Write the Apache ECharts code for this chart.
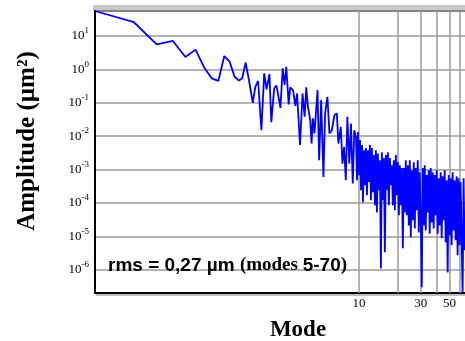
<!DOCTYPE html>
<html>
<head>
<meta charset="utf-8">
<script src="https://cdn.jsdelivr.net/npm/echarts@6/dist/echarts.min.js"></script>
<style>
  html, body { margin: 0; padding: 0; background: #fff; }
  #chart { width: 465px; height: 341px; }
</style>
</head>
<body>
<div id="chart"></div>
<script>
// mode numbers (x) and amplitude in µm² (y)
var modes = [
  0.091, 0.182, 0.273, 0.364, 0.455, 0.545, 0.636, 0.727, 0.818, 0.909, 1.0, 1.09,
  1.18, 1.25, 1.33, 1.41, 1.51, 1.58, 1.66, 1.76, 1.85, 1.93, 2.03, 2.10, 2.21, 2.30,
  2.47, 2.57, 2.66, 2.74, 2.86, 2.94, 3.09, 3.22,
  3.32, 3.50, 3.66, 3.80, 3.91, 4.03, 4.20, 4.30, 4.40, 4.53, 4.78, 4.92, 5.10, 5.31,
  5.47, 5.70, 5.91, 6.17, 6.46, 6.74, 6.93, 7.23, 7.45, 7.67, 7.91, 8.13, 8.42, 8.67,
  8.95, 9.20,
  9.48, 9.65, 9.82, 10.0, 10.18, 10.36, 10.55, 10.73, 10.93, 11.12,
  11.32, 11.52, 11.73, 11.94, 12.15, 12.37, 12.59, 12.82, 13.04, 13.28,
  13.51, 13.76, 14.0, 14.25, 14.51, 14.77, 15.03, 15.3, 15.58, 15.85,
  16.14, 16.43, 16.72, 17.02, 17.33, 17.64, 17.95, 18.27, 18.6, 18.93,
  19.27, 19.62, 19.97, 20.33, 20.69, 21.06, 21.44, 21.82, 22.21, 22.61,
  23.01, 23.43, 23.85, 24.27, 24.71, 25.15, 25.6, 26.06, 26.52, 27.0,
  27.48, 27.97, 28.47, 28.98, 29.5, 30.03, 30.57, 31.11, 31.67, 32.23,
  32.81, 33.4, 34.0, 34.6, 35.22, 35.85, 36.49, 37.15, 37.81, 38.49,
  39.18, 39.88, 40.59, 41.32, 42.06, 42.81, 43.58, 44.36, 45.15, 45.96,
  46.79, 47.62, 48.48, 49.35, 50.23, 51.13, 52.04, 52.97, 53.92, 54.89,
  55.87, 56.87, 57.89, 58.92, 59.98, 61.05, 62.14, 63.26, 64.39, 65.54
];
var amplitude = [
  56, 25.8, 5.6, 7.1, 2.35, 3.9, 1.12, 0.54, 0.45, 2.5, 1.7, 0.61,
  0.46, 0.54, 1.6, 0.48, 0.10, 0.30, 0.45, 0.015, 0.76, 0.25, 0.72, 0.026, 0.27, 0.33,
  0.07, 1.07, 0.34, 1.2, 0.089, 0.29, 0.24, 0.08,
  0.19, 0.0054, 0.19, 0.038, 0.29, 0.076, 0.030, 0.0060, 0.034, 0.012, 0.24, 0.0019, 0.12, 6.0e-4,
  0.048, 0.15, 0.012, 0.015, 0.043, 0.048, 0.0060, 0.019, 0.0015, 0.0048, 4.8e-4, 0.038, 0.0015, 0.024,
  3.8e-4, 0.015,
  0.0093, 4.8e-4, 0.0132, 6.8e-4, 0.0076, 2.4e-4, 0.0054, 1.05e-4, 0.0038, 3.4e-4,
  0.0044, 1.7e-4, 0.0038, 4.2e-4, 0.0054, 1.2e-4, 0.0044, 2.1e-4, 0.0027, 8.5e-5,
  0.0038, 5.2e-5, 0.0030, 2.4e-4, 0.0019, 1.1e-6, 0.0033, 1.2e-4, 0.0022, 3.3e-6,
  0.0027, 2.4e-4, 0.0033, 8.5e-5, 0.0022, 3.4e-4, 0.00135, 8.5e-5, 0.0019, 6.0e-5,
  0.0027, 1.7e-4, 0.00166, 4.3e-5, 0.00135, 8.5e-5, 0.0011, 4.4e-6, 0.0011, 5.2e-5,
  0.0019, 4.3e-5, 0.00135, 2.1e-5, 0.0019, 9.3e-6, 9.5e-4, 3.0e-5, 0.00166, 1.7e-5,
  0.0011, 6.0e-5, 0.0019, 1.3e-5, 8.3e-4, 3.5e-5, 3.0e-7, 0.0011, 2.1e-5, 0.00135,
  1.5e-5, 6.8e-4, 5.2e-5, 9.5e-4, 1.2e-5, 0.0011, 2.6e-5, 8.3e-4, 1.7e-5, 6.8e-4,
  4.3e-5, 9.5e-4, 1.2e-5, 5.5e-4, 2.1e-5, 8.3e-4, 8.7e-6, 6.3e-4, 3.0e-5, 9.5e-4,
  6.6e-6, 4.8e-4, 8.3e-7, 6.8e-4, 1.07e-5, 5.5e-4, 5.4e-6, 8.3e-4, 1.5e-5, 4.8e-4,
  7.6e-6, 6.3e-4, 2.7e-6, 5.5e-4, 5.4e-6, 4.2e-4, 1.0e-5, 2.1e-7, 5.5e-4, 3.8e-6
];
// vertical grid lines and their labels along the mode axis
var gridModes = [10, 20, 30, 40, 50, 60];
var gridLabels = ['10', '', '30', '', '50', ''];

var serif = 'Liberation Serif';
var sans = 'Liberation Sans';

var chart = echarts.init(document.getElementById('chart'));

var points = modes.map(function (m, i) { return [m, amplitude[i]]; });

var option = {
  animation: false,
  grid: { left: 95, right: 0, top: 11, bottom: 48 },
  title: {
    text: '{a|rms = 0,27 \u00b5m }{b|(modes }{a|5-70}{b|)}',
    left: 103,
    top: 251,
    textStyle: {
      rich: {
        a: { fontFamily: sans, fontWeight: 'bold', fontSize: 19, color: '#000' },
        b: { fontFamily: serif, fontWeight: 'bold', fontSize: 19, color: '#000' }
      }
    }
  },
  xAxis: {
    type: 'log',
    min: 0.091,
    max: 66,
    axisLine: { lineStyle: { color: '#000', width: 2 } },
    axisTick: { show: false },
    axisLabel: { show: false },
    splitLine: { show: false }
  },
  yAxis: {
    type: 'log',
    min: 2e-7,
    max: 56,
    axisLine: { show: true, lineStyle: { color: '#000', width: 2 } },
    axisTick: { show: false },
    splitLine: { lineStyle: { color: '#9a9a9a', width: 1.5 } },
    axisLabel: {
      margin: 6,
      formatter: function (v) {
        var l = Math.log10(v);
        var e = Math.round(l);
        if (Math.abs(l - e) > 0.01) return '';
        return '{b|10}{s|' + e + '}';
      },
      rich: {
        b: { fontFamily: serif, fontSize: 13, color: '#000' },
        s: { fontFamily: serif, fontSize: 9, color: '#000', padding: [0, 0, 10, 0] }
      }
    }
  },
  series: [{
    type: 'line',
    data: points,
    symbol: 'none',
    z: 10,
    lineStyle: { color: '#0000ff', width: 1.8 },
    markLine: {
      silent: true,
      symbol: 'none',
      lineStyle: { color: '#9a9a9a', width: 1.5, type: 'solid' },
      label: {
        position: 'start',
        distance: 4,
        fontFamily: serif,
        fontSize: 13,
        color: '#000',
        formatter: function (p) { return gridLabels[p.dataIndex]; }
      },
      data: gridModes.map(function (v) { return { xAxis: v }; })
    }
  }],
  graphic: [
    { type: 'rect', shape: { x: 93, y: 5, width: 372, height: 5 }, style: { fill: '#c8c8c8' } },
    { type: 'line', shape: { x1: 94, y1: 11, x2: 465, y2: 11 }, style: { stroke: '#000', lineWidth: 1.5 } },
    { type: 'rect', shape: { x: 96, y: 294, width: 369, height: 2 }, style: { fill: '#bdbdbd' } },
    {
      type: 'text', x: 28, y: 141, rotation: Math.PI / 2,
      style: { text: 'Amplitude (\u00b5m\u00b2)', font: 'bold 25px "Liberation Serif"', fill: '#000', align: 'center', verticalAlign: 'middle' }
    },
    {
      type: 'text', x: 298, y: 330,
      style: { text: 'Mode', font: 'bold 23px "Liberation Serif"', fill: '#000', align: 'center', verticalAlign: 'middle' }
    }
  ]
};

chart.setOption(option);
</script>
</body>
</html>
